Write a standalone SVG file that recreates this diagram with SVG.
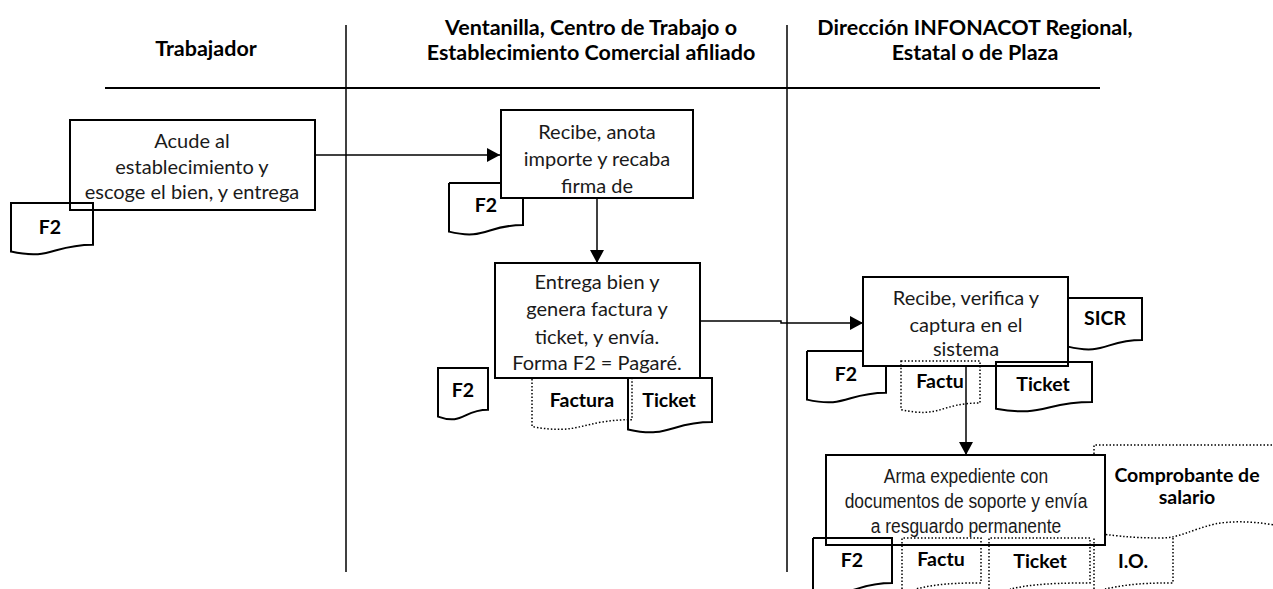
<svg xmlns="http://www.w3.org/2000/svg" width="1273" height="589" viewBox="0 0 1273 589">
<style>
.hdr{font-family:Lato,"Liberation Sans",sans-serif;font-weight:bold;font-size:21.5px;fill:#000;text-anchor:middle}
.txt{font-family:Lato,"Liberation Sans",sans-serif;font-size:20px;fill:#1a1a1a;text-anchor:middle}
.nar{font-family:"Liberation Sans",sans-serif;font-size:20px;fill:#1a1a1a;text-anchor:middle}
.lbl{font-family:Lato,"Liberation Sans",sans-serif;font-weight:bold;font-size:19.5px;fill:#000;text-anchor:middle}
.box{fill:#fff;stroke:#000;stroke-width:2}
.doc{fill:none;stroke:#000;stroke-width:2}
.dot{fill:none;stroke:#000;stroke-width:1.5;stroke-dasharray:1.5 2}
.ln{fill:none;stroke:#000;stroke-width:1.5}
.conn{fill:none;stroke:#000;stroke-width:1.5}
</style>
<defs>
<marker id="ah" markerUnits="userSpaceOnUse" markerWidth="14" markerHeight="14" refX="13" refY="7" orient="auto">
<path d="M0,0 L13,7 L0,14 Z" fill="#000"/>
</marker>
</defs>
<rect width="1273" height="589" fill="#fff"/>
<g id="lanes">
<line class="ln" x1="105" y1="88" x2="1100" y2="88" style="stroke-width:2"/>
<line class="ln" x1="346" y1="25" x2="346" y2="572"/>
<line class="ln" x1="787" y1="25" x2="787" y2="572"/>
<text class="hdr" x="206" y="56">Trabajador</text>
<text class="hdr" x="591" y="35">Ventanilla, Centro de Trabajo o</text>
<text class="hdr" x="591" y="60">Establecimiento Comercial afiliado</text>
<text class="hdr" x="975" y="35">Dirección INFONACOT Regional,</text>
<text class="hdr" x="975" y="60">Estatal o de Plaza</text>
</g>
<g id="connectors">
<line class="conn" x1="315" y1="155" x2="500" y2="155" marker-end="url(#ah)"/>
<line class="conn" x1="597" y1="198" x2="597" y2="263" marker-end="url(#ah)"/>
<polyline class="conn" points="700,321 781,321 781,323 863,323" marker-end="url(#ah)"/>
<line class="conn" x1="966" y1="366" x2="966" y2="455" marker-end="url(#ah)"/>
</g>
<g id="n1">
<rect class="box" x="70" y="120" width="245" height="90"/>
<text class="txt" x="192" y="148">Acude al</text>
<text class="txt" x="192" y="174">establecimiento y</text>
<text class="txt" x="192" y="199">escoge el bien, y entrega</text>
</g>
<g id="d1">
<path class="doc" d="M11,203 H93 V244.7 C52,244.7 52,260.6 11,251.6 Z"/>
<text class="lbl" x="50" y="234">F2</text>
</g>
<g id="n2">
<rect class="box" x="501" y="110" width="192" height="88"/>
<text class="txt" x="597" y="139">Recibe, anota</text>
<text class="txt" x="597" y="166">importe y recaba</text>
<text class="txt" x="597" y="193">firma de</text>
</g>
<g id="d2">
<path class="doc" d="M449,183 H501 M523,198 V225 C486,225 486,240.6 449,231.6 V183"/>
<text class="lbl" x="486" y="212">F2</text>
</g>
<g id="n3">
<rect class="box" x="495" y="263" width="205" height="115"/>
<text class="txt" x="597" y="289">Entrega bien y</text>
<text class="txt" x="597" y="316">genera factura y</text>
<text class="txt" x="597" y="344">ticket, y envía.</text>
<text class="txt" x="597" y="370">Forma F2 = Pagaré.</text>
</g>
<g id="d3">
<path class="doc" d="M438,368 H488 V409.7 C463,409.7 463,425.6 438,416.6 Z"/>
<text class="lbl" x="463" y="397">F2</text>
</g>
<g id="d4">
<path class="dot" d="M532,379 V426.6 C581,435.6 581,419.7 632,419.7 V379"/>
<text class="lbl" x="582" y="407">Factura</text>
</g>
<g id="d5">
<path class="doc" d="M628,378 H712 V422 C670,422 670,438.9 628,429.4 Z"/>
<text class="lbl" x="669" y="407">Ticket</text>
</g>
<g id="n4">
<path class="doc" d="M807,351 H863 M886,366 V392.7 C846.5,392.7 846.5,408.6 807,399.6 V351"/>
<text class="lbl" x="846" y="381">F2</text>
<path class="doc" d="M1068,298 H1142 V340 C1105.5,340 1105.5,355.6 1068,346.6"/>
<text class="lbl" x="1105" y="325">SICR</text>
<rect class="box" x="863" y="277" width="205" height="89"/>
<text class="txt" x="966" y="305">Recibe, verifica y</text>
<text class="txt" x="966" y="332">captura en el</text>
<text class="txt" x="966" y="356">sistema</text>
</g>
<g id="d6">
<path class="dot" d="M901,361 H980 V403 C940.5,403 940.5,418.6 901,409.6 Z"/>
<text class="lbl" x="940" y="388">Factu</text>
</g>
<g id="d7">
<path class="doc" d="M996,362 H1092 V402 C1044,402 1044,417.4 996,408.7 Z"/>
<text class="lbl" x="1043" y="391">Ticket</text>
</g>
<g id="d8">
<path class="dot" d="M1094,538 V445 H1273 M1273,524.7 C1250,521 1230,521 1215,524 C1190,530 1180,538 1160,538 C1130,538 1110,535 1094,533"/>
<text class="lbl" x="1187" y="482">Comprobante de</text>
<text class="lbl" x="1187" y="504">salario</text>
</g>
<g id="n5">
<rect class="box" x="826" y="455" width="279" height="90"/>
<g transform="translate(966,0) scale(0.87,1)">
<text class="nar" x="0" y="483">Arma expediente con</text>
<text class="nar" x="0" y="508">documentos de soporte y envía</text>
<text class="nar" x="0" y="533">a resguardo permanente</text>
</g>
</g>
<g id="d9">
<path class="doc" d="M813,538 H892 V582.9 C852.5,582.9 852.5,600 813,590"/>
<path class="doc" d="M813,538 V589"/>
<text class="lbl" x="852" y="567">F2</text>
</g>
<g id="d10">
<path class="dot" d="M902,589 V538 H981 V582.9 C941.5,582.9 930,586 915,589"/>
<text class="lbl" x="941" y="566">Factu</text>
</g>
<g id="d11">
<path class="dot" d="M989,589 V538 H1090 V582.9 C1039.5,582.9 1025,586 1010,589"/>
<text class="lbl" x="1040" y="568">Ticket</text>
</g>
<g id="d12">
<path class="dot" d="M1094,589 V538 M1173,538 V582.9 C1133.5,582.9 1120,586 1105,589"/>
<text class="lbl" x="1133" y="568">I.O.</text>
</g>
</svg>
